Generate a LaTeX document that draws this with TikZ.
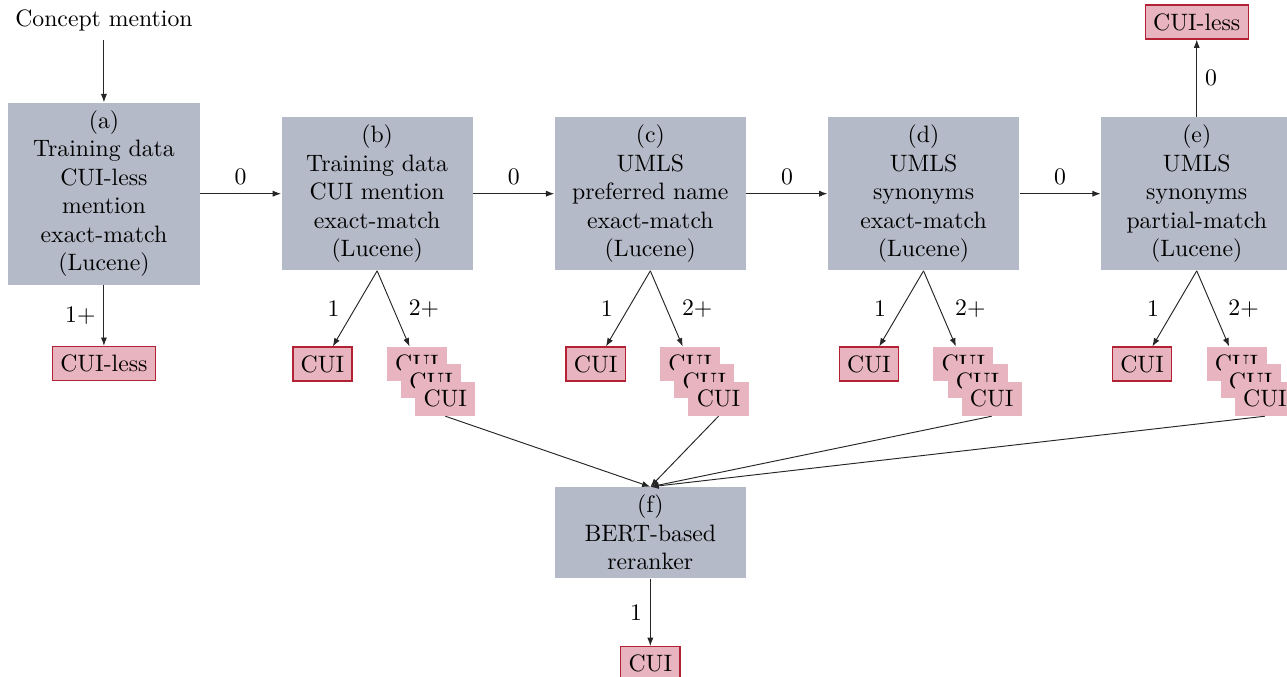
\documentclass[tikz,border=0pt]{standalone}
\usepackage{xcolor}
\usepackage{tikz}
\usetikzlibrary{positioning,arrows.meta}
\definecolor{stagegray}{RGB}{180,186,199}
\definecolor{cuipink}{RGB}{232,180,191}
\definecolor{cuired}{RGB}{178,34,52}
\tikzset{
  line/.style={-{Latex[length=3.5pt,width=2.6pt]}, line width=0.4pt, draw=black!85}
}

\begin{document}
\begin{tikzpicture}[
  font=\normalsize,
  stage/.style={fill=stagegray, text width=2.6cm, align=center, inner sep=3.33pt},
  cui/.style={fill=cuipink, draw=cuired, line width=0.6pt, minimum height=0.5cm},
  cand/.style={fill=cuipink, minimum height=0.5cm, minimum width=0.89cm},
  branch/.style={font=\normalsize, inner sep=3.33pt}
]
\useasboundingbox (0,0) rectangle (19.07,-10.02);
% retrieval stages
\node[stage] (less) at (1.54,-2.87) {(a)\\Training data\\CUI-less\\mention\\exact-match\\(Lucene)};
\node[above=0.93cm of less] (mention) {Concept mention};
\node[stage, right=1.2cm of less] (train) {(b)\\Training data\\CUI mention\\exact-match\\(Lucene)};
\node[stage, right=1.2cm of train] (pref) {(c)\\UMLS\\preferred name\\exact-match\\(Lucene)};
\node[stage, right=1.2cm of pref] (synx) {(d)\\UMLS\\synonyms\\exact-match\\(Lucene)};
\node[stage, right=1.2cm of synx] (synp) {(e)\\UMLS\\synonyms\\partial-match\\(Lucene)};
\node[stage, below=3.2cm of pref] (rerank) {(f)\\BERT-based\\reranker};
% outputs
\node[cui, below=0.9cm of less] (lessout) {CUI-less};
\node[cui, above=1.14cm of synp] (synpnone) {CUI-less};
\node[cui, below=1cm of rerank] (rerankout) {CUI};
\node[cui, below=1.12cm of train, xshift=-0.81cm] (trainone) {CUI};
\node[cand, below=1.12cm of train, xshift=0.59cm] (trainmanyA) {CUI};
\node[cand, xshift=0.21cm, yshift=-0.26cm] (trainmanyB) at (trainmanyA) {CUI};
\node[cand, xshift=0.21cm, yshift=-0.26cm] (trainmanyC) at (trainmanyB) {CUI};
\node[cui, below=1.12cm of pref, xshift=-0.81cm] (prefone) {CUI};
\node[cand, below=1.12cm of pref, xshift=0.59cm] (prefmanyA) {CUI};
\node[cand, xshift=0.21cm, yshift=-0.26cm] (prefmanyB) at (prefmanyA) {CUI};
\node[cand, xshift=0.21cm, yshift=-0.26cm] (prefmanyC) at (prefmanyB) {CUI};
\node[cui, below=1.12cm of synx, xshift=-0.81cm] (synxone) {CUI};
\node[cand, below=1.12cm of synx, xshift=0.59cm] (synxmanyA) {CUI};
\node[cand, xshift=0.21cm, yshift=-0.26cm] (synxmanyB) at (synxmanyA) {CUI};
\node[cand, xshift=0.21cm, yshift=-0.26cm] (synxmanyC) at (synxmanyB) {CUI};
\node[cui, below=1.12cm of synp, xshift=-0.81cm] (synpone) {CUI};
\node[cand, below=1.12cm of synp, xshift=0.59cm] (synpmanyA) {CUI};
\node[cand, xshift=0.21cm, yshift=-0.26cm] (synpmanyB) at (synpmanyA) {CUI};
\node[cand, xshift=0.21cm, yshift=-0.26cm] (synpmanyC) at (synpmanyB) {CUI};
% connectors
\draw[line] (mention) -- (less);
\draw[line] (less) -- node[above] {0} (train);
\draw[line] (train) -- node[above] {0} (pref);
\draw[line] (pref) -- node[above] {0} (synx);
\draw[line] (synx) -- node[above] {0} (synp);
\draw[line] (less) -- node[left] {1+} (lessout);
\draw[line] (synp) -- node[right] {0} (synpnone);
\draw[line] (rerank) -- node[left] {1} (rerankout);
\draw[line] (train.south) -- node[left, xshift=-3pt] {1} (trainone);
\draw[line] (train.south) -- node[right, xshift=3pt] {2+} (trainmanyA);
\draw[line] (pref.south) -- node[left, xshift=-3pt] {1} (prefone);
\draw[line] (pref.south) -- node[right, xshift=3pt] {2+} (prefmanyA);
\draw[line] (synx.south) -- node[left, xshift=-3pt] {1} (synxone);
\draw[line] (synx.south) -- node[right, xshift=3pt] {2+} (synxmanyA);
\draw[line] (synp.south) -- node[left, xshift=-3pt] {1} (synpone);
\draw[line] (synp.south) -- node[right, xshift=3pt] {2+} (synpmanyA);
\draw[line] (trainmanyC.south) -- (rerank.north);
\draw[line] (prefmanyC.south) -- (rerank.north);
\draw[line] (synxmanyC.south) -- (rerank.north);
\draw[line] (synpmanyC.south) -- (rerank.north);
\end{tikzpicture}
\end{document}
